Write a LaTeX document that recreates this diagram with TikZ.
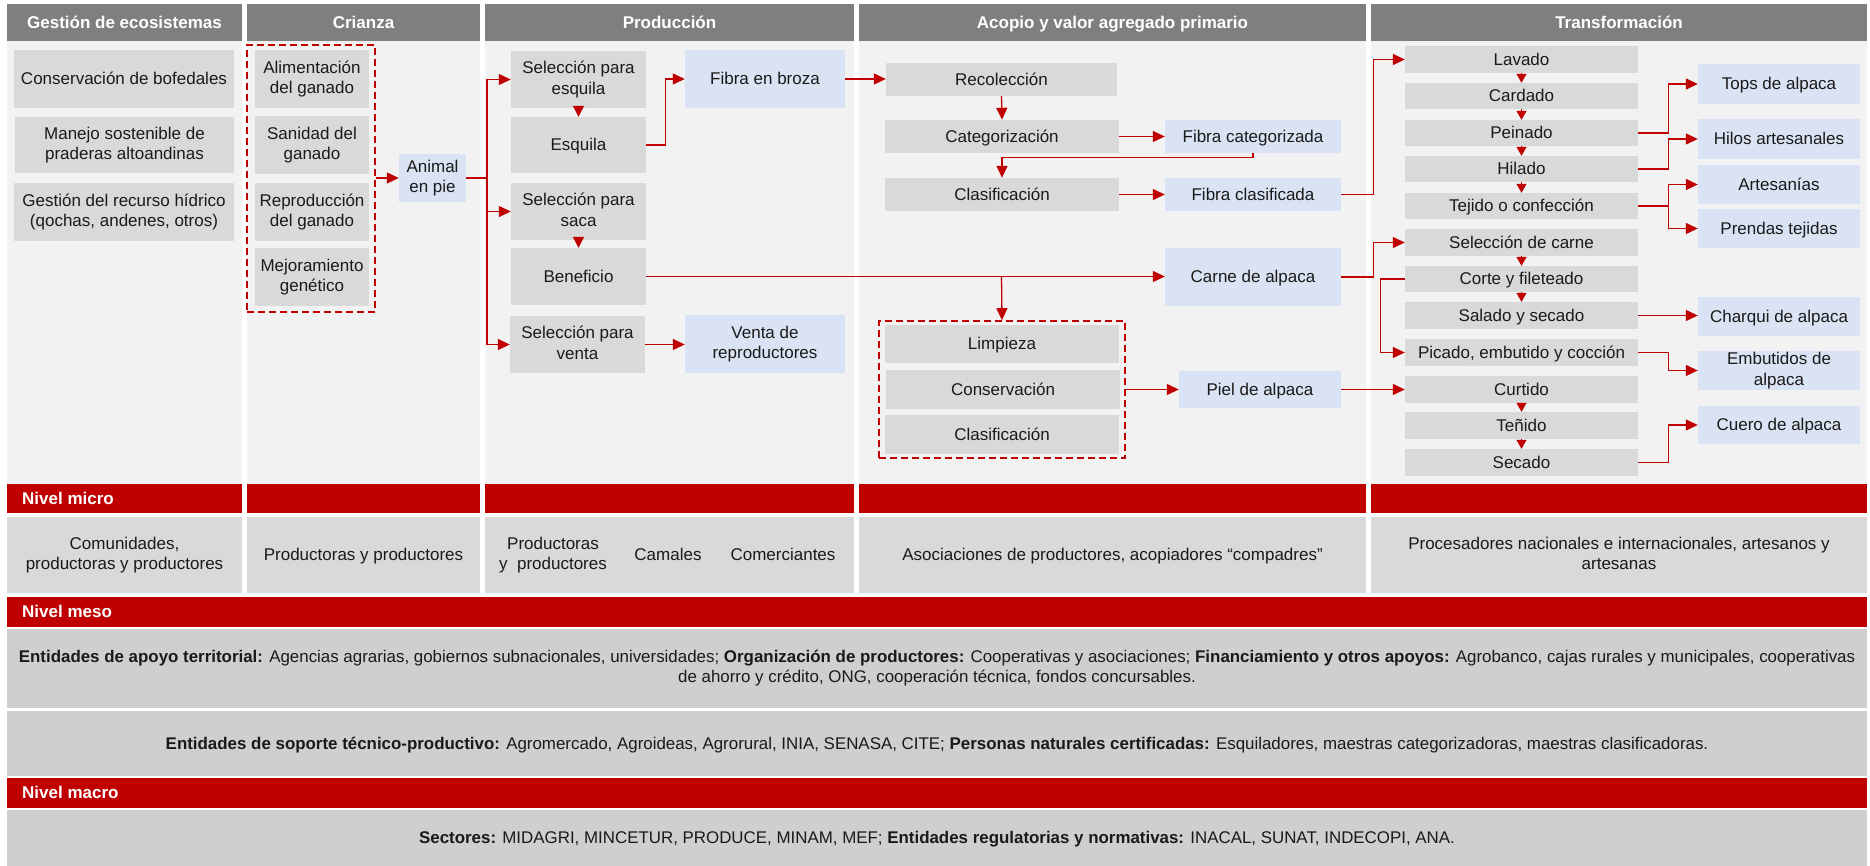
\documentclass[tikz,border=0pt]{standalone}
\usepackage{fontspec}
\setmainfont{Liberation Sans}
\usetikzlibrary{arrows.meta}

\definecolor{hdr}{HTML}{7F7F7F}
\definecolor{colbg}{HTML}{F2F2F2}
\definecolor{stepfill}{HTML}{D9D9D9}
\definecolor{prodfill}{HTML}{DAE3F3}
\definecolor{lvl}{HTML}{C00000}
\definecolor{actfill}{HTML}{D0CECE}
\definecolor{flow}{HTML}{C00000}
\definecolor{ink}{HTML}{1A1A1A}

\newcommand\txt{\fontsize{17}{20.5}\selectfont}
\newcommand\txts{\fontsize{16.9}{20}\selectfont}
% line strut with the font's ascent and descent, so text sits centred like in an office layout
\newcommand\linestrut{\rule[-0.212em]{0pt}{1.117em}}

% box given by its corners: style, x1, y1, x2, y2, name, text
\newcommand\cellat[7]{%
  \node[#1, minimum width={(#4)-(#2)}, minimum height={(#5)-(#3)}]
    (#6) at ({((#2)+(#4))/2},{((#3)+(#5))/2}) {#7};}

\tikzset{
  struts/.style={execute at begin node=\linestrut, execute at end node=\linestrut},
  cellbox/.style={inner sep=0pt, align=center, font=\txt, text=ink, struts},
  stepbox/.style={cellbox, fill=stepfill},
  prodbox/.style={cellbox, fill=prodfill},
  hdrbox/.style={cellbox, fill=hdr, text=white, font=\txt\bfseries},
  colbox/.style={fill=colbg, inner sep=0pt},
  lvlbar/.style={fill=lvl, inner sep=0pt},
  lvltext/.style={anchor=west, inner sep=0pt, text=white, font=\txt\bfseries, struts},
  actbox/.style={cellbox, fill=stepfill},
  wideact/.style={cellbox, fill=actfill, font=\txts},
  plain/.style={inner sep=0pt, align=center, font=\txt, text=ink, struts},
  grp/.style={draw=flow, dash pattern=on 7pt off 4pt, line width=1.6pt, inner sep=0pt},
  ln/.style={draw=flow, line width=1.3pt},
  arr/.style={ln, -{Triangle[length=12pt,width=11pt]}},
  stepdown/.style={ln, -{Triangle[length=11pt,width=11pt]}},
  smalldown/.style={ln, -{Triangle[length=9pt,width=10pt]}},
}

\begin{document}
\begin{tikzpicture}[x=1pt,y=-1pt]
\useasboundingbox (0,0) rectangle (1870,866);
\fill[white] (0,0) rectangle (1870,866);

% ---------- column bodies and headers ----------
\cellat{colbox}{7}{41}{242}{484}{body1}{}
\cellat{colbox}{247}{41}{480}{484}{body2}{}
\cellat{colbox}{485}{41}{854}{484}{body3}{}
\cellat{colbox}{859}{41}{1366}{484}{body4}{}
\cellat{colbox}{1371}{41}{1867}{484}{body5}{}

\cellat{hdrbox}{7}{4}{242}{41}{h1}{Gestión de ecosistemas}
\cellat{hdrbox}{247}{4}{480}{41}{h2}{Crianza}
\cellat{hdrbox}{485}{4}{854}{41}{h3}{Producción}
\cellat{hdrbox}{859}{4}{1366}{41}{h4}{Acopio y valor agregado primario}
\cellat{hdrbox}{1371}{4}{1867}{41}{h5}{Transformación}

% ---------- Gestión de ecosistemas ----------
\cellat{stepbox}{14}{50}{234}{108}{g1}{Conservación de bofedales}
\cellat{stepbox}{15}{117}{234}{173}{g2}{Manejo sostenible de\\praderas altoandinas}
\cellat{stepbox}{14}{183}{234}{241}{g3}{Gestión del recurso hídrico\\(qochas, andenes, otros)}

% ---------- Crianza ----------
\cellat{grp}{247}{45}{375}{312}{crz}{}
\cellat{stepbox}{255}{50}{369}{108}{c1}{Alimentación\\del ganado}
\cellat{stepbox}{255}{116}{369}{174}{c2}{Sanidad del\\ganado}
\cellat{stepbox}{255}{183}{369}{241}{c3}{Reproducción\\del ganado}
\cellat{stepbox}{255}{248}{369}{306}{c4}{Mejoramiento\\genético}
\cellat{prodbox}{399}{154}{466}{202}{animal}{Animal\\en pie}

% ---------- Producción ----------
\cellat{stepbox}{511}{51}{646}{108}{p1}{Selección para\\esquila}
\cellat{stepbox}{511}{117}{646}{173}{p2}{Esquila}
\cellat{stepbox}{511}{183}{646}{240}{p3}{Selección para\\saca}
\cellat{stepbox}{511}{248}{646}{305}{p4}{Beneficio}
\cellat{stepbox}{510}{316}{645}{373}{p5}{Selección para\\venta}
\cellat{prodbox}{685}{50}{845}{108}{fib}{Fibra en broza}
\cellat{prodbox}{685}{315}{845}{373}{venta}{Venta de\\reproductores}

% ---------- Acopio y valor agregado primario ----------
\cellat{stepbox}{886}{63}{1117}{96}{rec}{Recolección}
\cellat{stepbox}{885}{120}{1119}{153}{cat}{Categorización}
\cellat{stepbox}{885}{178}{1119}{211}{cla}{Clasificación}
\cellat{prodbox}{1165}{120}{1341}{153}{fcat}{Fibra categorizada}
\cellat{prodbox}{1165}{178}{1341}{211}{fcla}{Fibra clasificada}
\cellat{prodbox}{1165}{248}{1341}{306}{carne}{Carne de alpaca}
\cellat{grp}{879}{321}{1125}{458}{pgrp}{}
\cellat{stepbox}{885}{325}{1119}{363}{lim}{Limpieza}
\cellat{stepbox}{886}{370}{1120}{409}{con}{Conservación}
\cellat{stepbox}{885}{415}{1119}{454}{cla2}{Clasificación}
\cellat{prodbox}{1179}{371}{1341}{408}{piel}{Piel de alpaca}

% ---------- Transformación ----------
\cellat{stepbox}{1405}{46}{1638}{73}{lav}{Lavado}
\cellat{stepbox}{1405}{83}{1638}{109}{car}{Cardado}
\cellat{stepbox}{1405}{120}{1638}{146}{pei}{Peinado}
\cellat{stepbox}{1405}{156}{1638}{182}{hil}{Hilado}
\cellat{stepbox}{1405}{193}{1638}{219}{tej}{Tejido o confección}
\cellat{stepbox}{1405}{229}{1638}{256}{sel}{Selección de carne}
\cellat{stepbox}{1405}{266}{1638}{292}{cor}{Corte y fileteado}
\cellat{stepbox}{1405}{302}{1638}{329}{sal}{Salado y secado}
\cellat{stepbox}{1405}{339}{1638}{366}{pic}{Picado, embutido y cocción}
\cellat{stepbox}{1405}{376}{1638}{403}{cur}{Curtido}
\cellat{stepbox}{1405}{412}{1638}{439}{ten}{Teñido}
\cellat{stepbox}{1405}{449}{1638}{476}{sec}{Secado}

\cellat{prodbox}{1698}{64}{1860}{104}{tops}{Tops de alpaca}
\cellat{prodbox}{1698}{119}{1860}{159}{hilos}{Hilos artesanales}
\cellat{prodbox}{1698}{165}{1860}{204}{art}{Artesanías}
\cellat{prodbox}{1698}{209}{1860}{248}{pren}{Prendas tejidas}
\cellat{prodbox}{1698}{297}{1860}{336}{cha}{Charqui de alpaca}
\cellat{prodbox}{1698}{351}{1860}{390}{emb}{Embutidos de\\alpaca}
\cellat{prodbox}{1698}{406}{1860}{444}{cue}{Cuero de alpaca}

% ---------- flows ----------
\coordinate (trunk) at (487,178);
\draw[arr] (crz.east |- animal.west) -- (animal.west);
\draw[ln] (animal.east) -- (trunk);
\draw[arr] (trunk) |- (p1.west);
\draw[arr] (trunk) |- (p3.west);
\draw[arr] (trunk) |- (p5.west);
\draw[stepdown] (p1.south) -- (p2.north);
\draw[stepdown] (p3.south) -- (p4.north);
\draw[arr] (p2.east) -- ++(19,0) |- (fib.west);
\draw[arr] (p4.east) -- (p4.east -| carne.west);
\draw[arr] (p5.east) -- (p5.east -| venta.west);

\draw[arr] (fib.east) -- (fib.east -| rec.west);
\draw[arr] (rec.south) -- (cat.north);
\draw[arr] (cat.east) -- (cat.east -| fcat.west);
\draw[arr] (fcat.south) -- ++(0,4) -| (cla.north);
\draw[arr] (cla.east) -- (cla.east -| fcla.west);
\draw[arr] (rec.south |- p4.east) -- (pgrp.north);
\draw[arr] (pgrp.east |- piel.west) -- (piel.west);

\draw[arr] (fcla.east) -- ++(32,0) |- (lav.west);
\draw[arr] (carne.east) -- ++(32,0) |- (sel.west);
\draw[arr] (piel.east) -- (piel.east -| cur.west);
\draw[arr] (cor.west) -- ++(-24,0) |- (pic.west);

\draw[smalldown] (lav.south) -- (car.north);
\draw[smalldown] (car.south) -- (pei.north);
\draw[smalldown] (pei.south) -- (hil.north);
\draw[smalldown] (hil.south) -- (tej.north);
\draw[smalldown] (sel.south) -- (cor.north);
\draw[smalldown] (cor.south) -- (sal.north);
\draw[smalldown] (cur.south) -- (ten.north);
\draw[smalldown] (ten.south) -- (sec.north);

\draw[arr] (pei.east) -- ++(30,0) |- (tops.west);
\draw[arr] (hil.east) -- ++(30,0) |- (hilos.west);
\draw[arr] (tej.east) -- ++(30,0) |- (art.west);
\draw[arr] (tej.east) -- ++(30,0) |- (pren.west);
\draw[arr] (sal.east) -- (sal.east -| cha.west);
\draw[arr] (pic.east) -- ++(30,0) |- (emb.west);
\draw[arr] (sec.east) -- ++(30,0) |- (cue.west);

% ---------- Nivel micro ----------
\cellat{lvlbar}{7}{484}{242}{513}{mi1}{}
\cellat{lvlbar}{247}{484}{480}{513}{mi2}{}
\cellat{lvlbar}{485}{484}{854}{513}{mi3}{}
\cellat{lvlbar}{859}{484}{1366}{513}{mi4}{}
\cellat{lvlbar}{1371}{484}{1867}{513}{mi5}{}
\node[lvltext] (lmicro) at (22,498.5) {Nivel micro};

\cellat{actbox}{7}{517}{242}{593}{a1}{Comunidades,\\productoras y productores}
\cellat{actbox}{247}{517}{480}{593}{a2}{Productoras y productores}
\cellat{actbox}{485}{517}{854}{593}{a3}{}
\node[plain] (a3a) at (553,555) {Productoras\\y\ \ productores};
\node[plain] (a3b) at (668,555) {Camales};
\node[plain] (a3c) at (783,555) {Comerciantes};
\cellat{actbox}{859}{517}{1366}{593}{a4}{Asociaciones de productores, acopiadores “compadres”}
\cellat{actbox}{1371}{517}{1867}{593}{a5}{Procesadores nacionales e internacionales, artesanos y\\artesanas}

% ---------- Nivel meso ----------
\cellat{lvlbar}{7}{597}{1867}{627}{mesobar}{}
\node[lvltext] (lmeso) at (22,612) {Nivel meso};
\cellat{wideact}{7}{629}{1867}{708}{meso1}{\textbf{Entidades de apoyo territorial:} Agencias agrarias, gobiernos subnacionales, universidades; \textbf{Organización de productores:} Cooperativas y asociaciones; \textbf{Financiamiento y otros apoyos:} Agrobanco, cajas rurales y municipales, cooperativas\\de ahorro y crédito, ONG, cooperación técnica, fondos concursables.}
\cellat{wideact}{7}{711}{1867}{776}{meso2}{\textbf{Entidades de soporte técnico-productivo:} Agromercado, Agroideas, Agrorural, INIA, SENASA, CITE; \textbf{Personas naturales certificadas:} Esquiladores, maestras categorizadoras, maestras clasificadoras.}

% ---------- Nivel macro ----------
\cellat{lvlbar}{7}{778}{1867}{808}{macrobar}{}
\node[lvltext] (lmacro) at (22,793) {Nivel macro};
\cellat{wideact}{7}{810}{1867}{866}{macro1}{\textbf{Sectores:} MIDAGRI, MINCETUR, PRODUCE, MINAM, MEF; \textbf{Entidades regulatorias y normativas:} INACAL, SUNAT, INDECOPI, ANA.}
\end{tikzpicture}
\end{document}
